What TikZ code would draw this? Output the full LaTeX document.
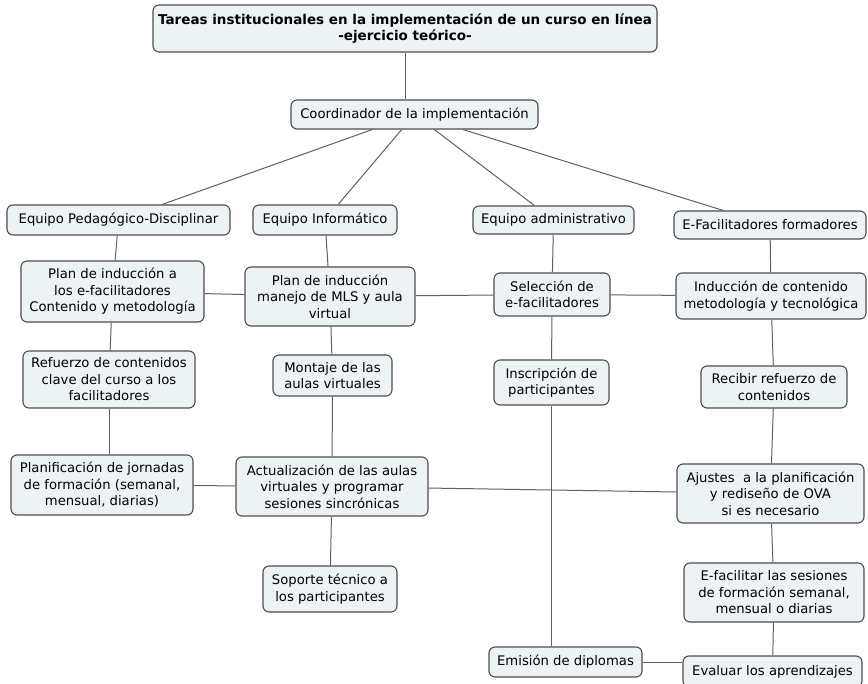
\documentclass[tikz,border=0pt]{standalone}
\usepackage{fontspec}
\setmainfont{DejaVu Sans}
\usetikzlibrary{positioning,calc}

\definecolor{boxfill}{HTML}{EDF2F5}
\definecolor{boxline}{HTML}{4D4D4D}
\definecolor{linkline}{HTML}{606060}

\tikzset{
  concept/.style={draw=boxline, fill=boxfill, line width=1.1pt, rounded corners=6pt,
    align=center, inner sep=2pt, font=\fontsize{13.2}{16.5}\selectfont},
  link/.style={draw=linkline, line width=1pt}
}

\begin{document}
\begin{tikzpicture}[x=1pt, y=-1pt]
      \useasboundingbox (0,0) rectangle (868,684);
      \clip (0,0) rectangle (868,684);

      % concepts
      \node[concept, minimum width=504, minimum height=47, font=\bfseries\fontsize{13.5}{16}\selectfont]
        at (405, 28.5) (title) {Tareas institucionales en la implementación de un curso en línea\\-ejercicio teórico-};
      \node[concept, minimum width=247, minimum height=29] at (414.5, 114.5) (coord) {Coordinador de la implementación};

      \node[concept, minimum width=223, minimum height=30] at (118.5, 220) (eqped) {Equipo Pedagógico-Disciplinar};
      \node[concept, minimum width=144, minimum height=30] at (325, 220) (eqinf) {Equipo Informático};
      \node[concept, minimum width=161, minimum height=28] at (553.5, 220) (eqadm) {Equipo administrativo};
      \node[concept, minimum width=192, minimum height=28] at (770, 225) (efac) {E-Facilitadores formadores};

      \node[concept, minimum width=183, minimum height=61] at (112.5, 291.5) (planind) {Plan de inducción a\\los e-facilitadores\\Contenido y metodología};
      \node[concept, minimum width=170, minimum height=59] at (330, 296.5) (planmls) {Plan de inducción\\manejo de MLS y aula\\virtual};
      \node[concept, minimum width=116, minimum height=43] at (552, 294.5) (selec) {Selección de\\e-facilitadores};
      \node[concept, minimum width=190, minimum height=46] at (771, 296) (induc) {Inducción de contenido\\metodología y tecnológica};

      \node[concept, minimum width=172, minimum height=57] at (109, 379.5) (refuerzo) {Refuerzo de contenidos\\clave del curso a los\\facilitadores};
      \node[concept, minimum width=119, minimum height=41] at (332.5, 375.5) (montaje) {Montaje de las\\aulas virtuales};
      \node[concept, minimum width=115, minimum height=45] at (551.5, 382.5) (inscrip) {Inscripción de\\participantes};
      \node[concept, minimum width=146, minimum height=42] at (774, 387) (recibir) {Recibir refuerzo de\\contenidos};

      \node[concept, minimum width=182, minimum height=60] at (102, 485) (planif) {Planificación de jornadas\\de formación (semanal,\\mensual, diarias)};
      \node[concept, minimum width=192, minimum height=59] at (332, 486.5) (actual) {Actualización de las aulas\\virtuales y programar\\sesiones sincrónicas};
      \node[concept, minimum width=187, minimum height=59] at (770.5, 493.5) (ajustes) {Ajustes\ \ a la planificación\\y rediseño de OVA\\si es necesario};

      \node[concept, minimum width=134, minimum height=46] at (330, 589) (soporte) {Soporte técnico a\\los participantes};
      \node[concept, minimum width=180, minimum height=59] at (774, 592.5) (efacil) {E-facilitar las sesiones\\de formación semanal,\\mensual o diarias};

      \node[concept, minimum width=153, minimum height=30] at (565.5, 662) (emision) {Emisión de diplomas};
      \node[concept, minimum width=179, minimum height=31] at (772.5, 671.5) (evaluar) {Evaluar los aprendizajes};

      % links
      \draw[link] (title) -- (title |- coord.north);
      \draw[link] (coord) -- (eqped);
      \draw[link] (coord) -- (eqinf);
      \draw[link] (coord) -- (eqadm);
      \draw[link] (coord) -- (efac);

      \draw[link] (eqped) -- (planind);
      \draw[link] (eqinf) -- (planmls);
      \draw[link] (eqadm) -- (selec);
      \draw[link] (efac) -- (induc);

      \draw[link] (planind) -- (planmls);
      \draw[link] (planmls) -- (selec);
      \draw[link] (selec) -- (induc);

      \draw[link] (planind) -- (refuerzo);
      \draw[link] (planmls) -- (montaje);
      \draw[link] (selec) -- (inscrip);
      \draw[link] (induc) -- (recibir);

      \draw[link] (refuerzo) -- (refuerzo |- planif.north);
      \draw[link] (montaje) -- (actual);
      \draw[link] (inscrip) -- (inscrip |- emision.north);
      \draw[link] (recibir) -- (ajustes);

      \draw[link] (planif) -- (actual);
      \draw[link] (actual) -- (ajustes);
      \draw[link] (actual) -- (soporte);
      \draw[link] (ajustes) -- (efacil);
      \draw[link] (efacil) -- (evaluar);
      \draw[link] (emision) -- (emision -| evaluar.west);
    \end{tikzpicture}
\end{document}
